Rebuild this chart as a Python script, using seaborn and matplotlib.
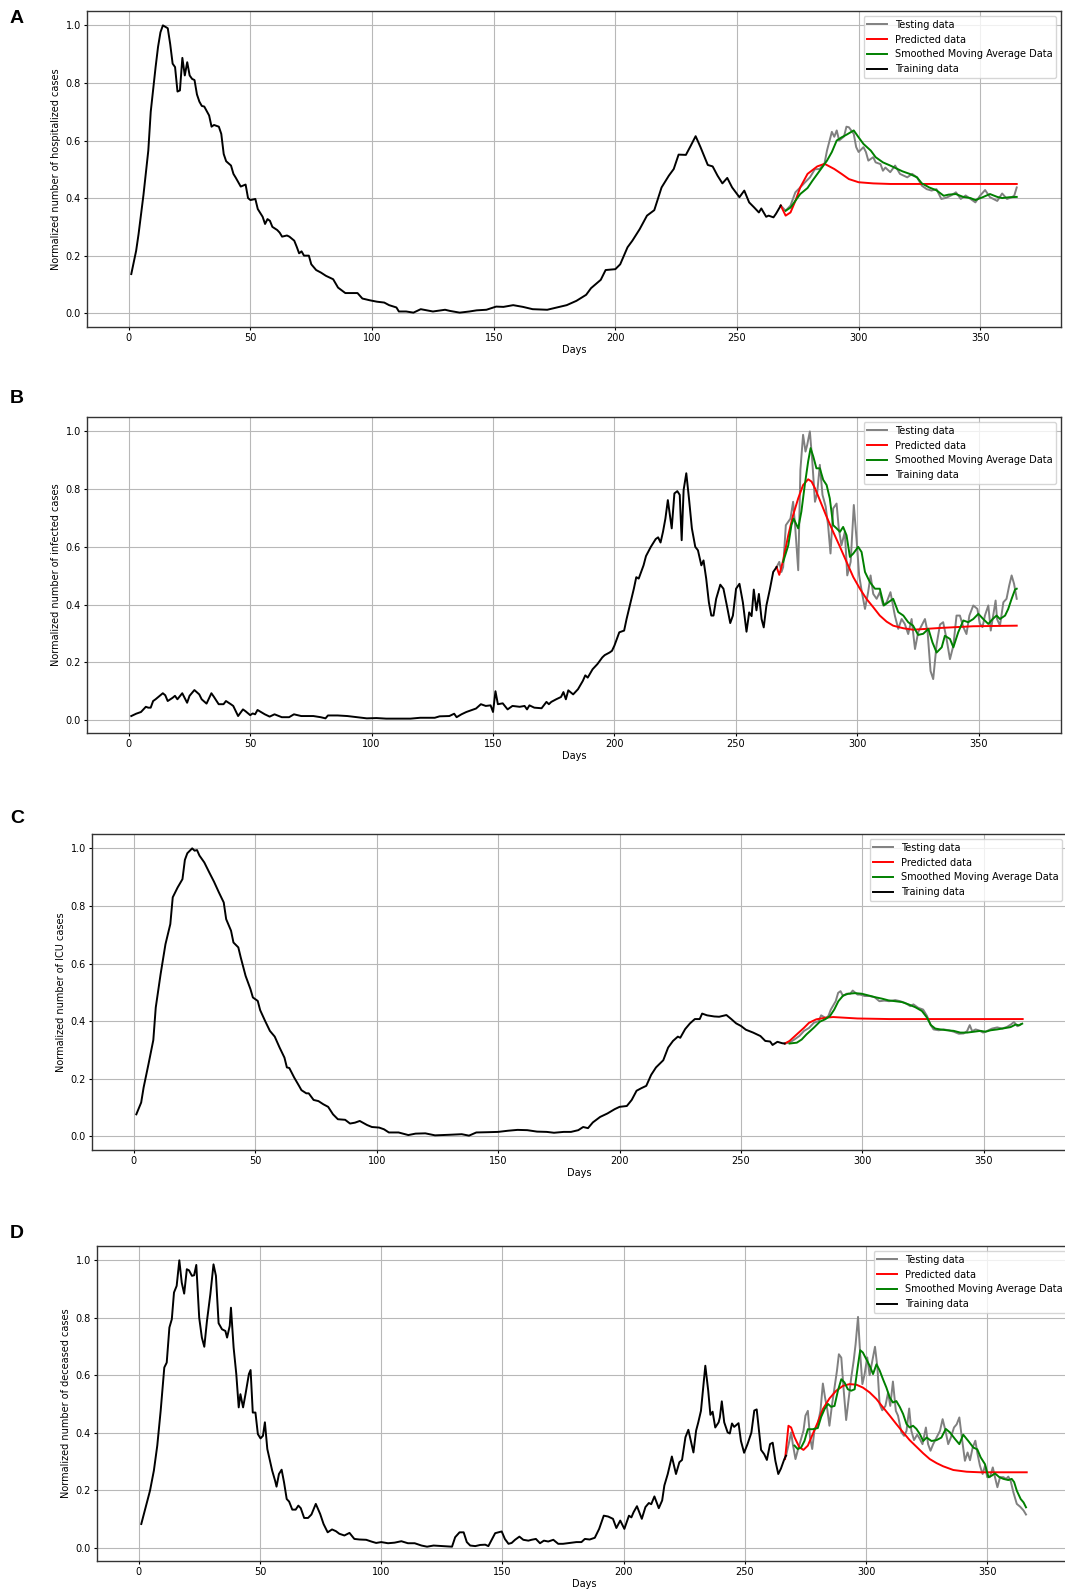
import matplotlib
matplotlib.use("Agg")
import matplotlib.pyplot as plt
import seaborn as sns
import pandas as pd

# ---------------- Panel A: hospitalized ----------------
a_train = [(1,0.136),(3,0.217),(4,0.275),(6,0.41),(8,0.565),(9,0.70),(11,0.855),(12,0.925),(13,0.976),(14,1.0),
           (16,0.99),(17,0.935),(18,0.867),(19,0.855),(20,0.77),(21,0.774),(22,0.887),(23,0.826),(24,0.872),(25,0.826),
           (26,0.814),(27,0.81),(28,0.76),(29,0.735),(30,0.72),(31,0.718),(33,0.687),(34,0.648),(35,0.654),(37,0.648),
           (38,0.623),(39,0.553),(40,0.528),(42,0.513),(43,0.484),(44,0.47),(46,0.44),(48,0.447),(49,0.40),(50,0.393),
           (52,0.397),(53,0.362),(55,0.335),(56,0.31),(57,0.327),(58,0.321),(59,0.30),(61,0.289),(62,0.28),(63,0.266),
           (65,0.27),(66,0.266),(68,0.252),(69,0.231),(70,0.208),(71,0.215),(72,0.20),(74,0.20),(75,0.17),(77,0.15),
           (79,0.141),(81,0.13),(84,0.118),(86,0.089),(89,0.07),(91,0.07),(94,0.07),(96,0.051),(99,0.045),(102,0.04),
           (105,0.037),(107,0.028),(110,0.02),(111,0.006),(114,0.006),(117,0.002),(120,0.014),(125,0.006),(130,0.012),
           (132,0.008),(136,0.002),(140,0.006),(143,0.01),(147,0.012),(151,0.023),(154,0.022),(158,0.028),(162,0.022),
           (166,0.014),(172,0.012),(176,0.02),(180,0.028),(184,0.043),(188,0.064),(190,0.087),(194,0.116),(196,0.15),
           (200,0.153),(202,0.17),(205,0.229),(207,0.252),(210,0.292),(213,0.339),(216,0.358),(219,0.437),(222,0.478),
           (224,0.501),(226,0.551),(229,0.55),(231,0.582),(233,0.615),(235,0.577),(238,0.515),(240,0.51),(242,0.478),
           (244,0.451),(246,0.47),(248,0.437),(251,0.403),(253,0.426),(255,0.385),(257,0.368),(259,0.35),(260,0.364),
           (262,0.335),(263,0.339),(265,0.333),(266,0.345),(268,0.374)]
a_test = [(268,0.374),(270,0.356),(272,0.374),(274,0.42),(276,0.437),(278,0.455),(280,0.472),(282,0.5),(284,0.501),
          (286,0.521),(287,0.565),(289,0.63),(290,0.613),(291,0.635),(292,0.6),(294,0.614),(295,0.648),(296,0.646),
          (298,0.623),(299,0.577),(300,0.56),(302,0.577),(303,0.56),(304,0.53),(306,0.542),(307,0.524),(309,0.518),
          (310,0.495),(311,0.506),(313,0.49),(315,0.513),(317,0.484),(320,0.472),(322,0.484),(324,0.472),(326,0.443),
          (328,0.431),(330,0.426),(332,0.431),(334,0.397),(336,0.401),(338,0.409),(340,0.42),(342,0.397),(344,0.409),
          (346,0.397),(348,0.385),(350,0.409),(352,0.428),(354,0.403),(357,0.39),(359,0.416),(361,0.397),(363,0.403),
          (364,0.409),(365,0.437)]
a_pred = [(268,0.374),(270,0.339),(272,0.35),(274,0.39),(276,0.437),(279,0.484),(283,0.51),(286,0.519),(290,0.501),
          (293,0.484),(296,0.466),(300,0.455),(306,0.451),(313,0.449),(323,0.449),(340,0.449),(365,0.449)]
a_sma = [(270,0.356),(272,0.367),(276,0.414),(279,0.435),(281,0.46),(284,0.495),(287,0.53),(289,0.56),(291,0.6),
         (293,0.611),(295,0.62),(298,0.635),(300,0.611),(302,0.588),(305,0.565),(307,0.542),(310,0.524),(313,0.513),
         (316,0.501),(318,0.493),(321,0.484),(324,0.472),(326,0.451),(329,0.437),(332,0.427),(335,0.408),(337,0.412),
         (340,0.414),(343,0.404),(346,0.4),(348,0.393),(351,0.403),(354,0.414),(357,0.404),(359,0.4),(362,0.403),
         (365,0.404)]

# ---------------- Panel B: infected ----------------
b_train = [(1,0.014),(3,0.022),(5,0.028),(7,0.046),(8,0.043),(9,0.043),(10,0.066),(11,0.072),(14,0.093),(15,0.086),
           (16,0.066),(18,0.077),(19,0.084),(20,0.072),(22,0.093),(24,0.06),(25,0.084),(27,0.104),(29,0.089),(30,0.072),
           (32,0.057),(34,0.093),(35,0.081),(37,0.055),(39,0.055),(40,0.066),(42,0.055),(43,0.049),(45,0.014),(47,0.037),
           (48,0.031),(50,0.017),(51,0.023),(52,0.02),(53,0.035),(56,0.02),(58,0.012),(60,0.02),(63,0.01),(66,0.01),
           (68,0.02),(71,0.014),(73,0.014),(76,0.014),(79,0.01),(81,0.006),(82,0.016),(86,0.016),(90,0.014),(94,0.01),
           (98,0.006),(102,0.007),(106,0.005),(112,0.005),(116,0.005),(120,0.008),(126,0.008),(128,0.013),(132,0.014),
           (134,0.022),(135,0.01),(137,0.02),(139,0.028),(141,0.034),(143,0.04),(145,0.055),(147,0.049),(149,0.051),
           (150,0.028),(151,0.1),(152,0.055),(154,0.058),(156,0.037),(158,0.049),(161,0.046),(163,0.049),(164,0.037),
           (165,0.051),(167,0.043),(170,0.041),(172,0.063),(173,0.055),(174,0.063),(176,0.072),(178,0.08),(179,0.097),
           (180,0.072),(181,0.103),(183,0.089),(185,0.107),(187,0.136),(188,0.155),(189,0.147),(191,0.176),(193,0.194),
           (195,0.217),(196,0.225),(198,0.234),(199,0.24),(200,0.258),(202,0.304),(204,0.31),(205,0.35),(206,0.385),
           (208,0.455),(209,0.495),(210,0.49),(212,0.536),(213,0.568),(215,0.6),(217,0.627),(218,0.633),(219,0.615),
           (220,0.652),(221,0.698),(222,0.762),(223.6,0.664),(224.7,0.785),(225.9,0.793),(226.9,0.78),(227.7,0.623),
           (228.5,0.797),(229.6,0.855),(230.7,0.768),(231.9,0.664),(233.3,0.6),(234.4,0.588),(235.8,0.536),(236.7,0.553),
           (237.8,0.49),(238.9,0.408),(239.9,0.362),(240.8,0.362),(241.9,0.42),(243.6,0.469),(244.9,0.455),(246.3,0.397),
           (247.7,0.336),(248.8,0.362),(250.1,0.455),(251.5,0.472),(252.9,0.408),(254.4,0.306),(255.5,0.373),(256.5,0.36),
           (257.4,0.452),(258.5,0.38),(259.5,0.437),(260.6,0.35),(261.5,0.321),(262.6,0.397),(264.0,0.452),(265.4,0.513),
           (266.8,0.53)]
b_test = [(266.8,0.53),(267.9,0.548),(268.8,0.513),(269.5,0.53),(270.6,0.675),(271.6,0.687),(272.5,0.698),(273.6,0.756),
          (274.5,0.664),(275.7,0.519),(276.6,0.867),(277.7,0.988),(278.7,0.93),(279.4,0.953),(280.5,1.0),(281.5,0.896),
          (282.6,0.756),(283.5,0.785),(284.6,0.884),(285.7,0.78),(287.0,0.74),(288.0,0.675),(289.0,0.577),(290.1,0.733),
          (291.5,0.75),(292.4,0.664),(293.5,0.605),(294.9,0.652),(295.9,0.501),(297.3,0.548),(298.6,0.745),(299.7,0.629),
          (300.8,0.501),(301.8,0.449),(303.2,0.385),(304.5,0.443),(305.5,0.501),(306.6,0.437),(308.0,0.42),(309.3,0.443),
          (310.7,0.397),(312.1,0.408),(313.7,0.443),(315.5,0.362),(316.9,0.316),(318.3,0.35),(319.6,0.333),(321.0,0.298),
          (322.4,0.35),(323.8,0.246),(325.1,0.304),(326.5,0.327),(327.9,0.35),(329.0,0.304),(330.2,0.17),(331.3,0.142),
          (332.7,0.262),(334.1,0.331),(335.4,0.339),(336.8,0.281),(338.2,0.211),(339.6,0.258),(340.9,0.362),(342.3,0.362),
          (343.7,0.322),(345.0,0.298),(346.2,0.362),(347.8,0.397),(349.5,0.385),(350.5,0.334),(351.6,0.322),(352.6,0.362),
          (354.0,0.397),(355.0,0.31),(356.0,0.362),(357.0,0.414),(357.6,0.35),(358.8,0.327),(360.2,0.408),(361.5,0.42),
          (362.6,0.466),(363.6,0.501),(364.6,0.472),(365.7,0.42)]
b_pred = [(266.8,0.53),(267.9,0.503),(269.5,0.553),(271.6,0.64),(273.6,0.71),(275.7,0.768),(277.7,0.814),(279.8,0.834),
          (281.2,0.826),(282.6,0.803),(284.6,0.762),(287.4,0.704),(290.1,0.652),(292.9,0.6),(295.6,0.548),(298.4,0.495),
          (301.1,0.455),(303.8,0.42),(306.6,0.391),(309.3,0.362),(312.1,0.341),(314.8,0.327),(319.0,0.318),(323.0,0.313),
          (328.6,0.316),(334.0,0.319),(347.8,0.325),(365.7,0.327)]
b_sma = [(269.5,0.548),(271.6,0.605),(272.9,0.675),(273.8,0.698),(275.7,0.664),(277.0,0.722),(278.4,0.814),(279.8,0.896),
         (280.8,0.942),(281.9,0.913),(283.2,0.872),(284.6,0.872),(286.0,0.832),(287.4,0.814),(288.7,0.768),(290.1,0.675),
         (291.5,0.664),(292.9,0.652),(294.2,0.669),(295.6,0.64),(297.0,0.565),(298.4,0.577),(300.4,0.6),(301.8,0.582),
         (303.2,0.513),(305.2,0.478),(307.3,0.455),(309.3,0.455),(311.0,0.397),(312.8,0.408),(314.8,0.42),(316.9,0.374),
         (319.0,0.362),(321.0,0.339),(323.0,0.327),(325.1,0.295),(327.2,0.299),(329.3,0.316),(331.0,0.269),(332.7,0.234),
         (334.8,0.252),(336.1,0.292),(338.2,0.281),(339.6,0.252),(341.6,0.304),(343.7,0.345),(345.7,0.339),(347.8,0.35),
         (349.9,0.368),(351.9,0.35),(354.0,0.333),(355.8,0.35),(357.4,0.362),(358.8,0.35),(360.9,0.362),(362.2,0.385),
         (363.6,0.42),(365.0,0.452),(365.7,0.455)]

# ---------------- Panel C: ICU ----------------
c_train = [(1,0.076),(3,0.117),(4,0.169),(6,0.25),(8,0.334),(9,0.447),(11,0.563),(13,0.667),(15,0.737),(16,0.83),
           (18,0.864),(20,0.893),(21,0.96),(22,0.983),(24,1.0),(25,0.992),(26,0.994),(27,0.975),(29,0.951),(31,0.917),
           (33,0.884),(35,0.847),(37,0.812),(38,0.754),(40,0.714),(41,0.673),(43,0.656),(44,0.621),(46,0.557),(48,0.511),
           (49,0.482),(51,0.47),(52,0.438),(54,0.401),(56,0.366),(58,0.346),(60,0.308),(62,0.273),(63,0.239),(64,0.237),
           (66,0.204),(68,0.175),(69,0.16),(71,0.149),(72,0.149),(74,0.126),(76,0.122),(78,0.111),(80,0.102),(82,0.076),
           (84,0.059),(87,0.057),(89,0.044),(91,0.047),(93,0.053),(96,0.039),(98,0.032),(101,0.03),(103,0.024),(105,0.013),
           (109,0.013),(113,0.004),(116,0.009),(120,0.01),(124,0.003),(130,0.005),(135,0.007),(138,0.002),(141,0.013),
           (146,0.014),(150,0.015),(154,0.019),(158,0.022),(162,0.021),(166,0.016),(170,0.015),(173,0.012),(177,0.015),
           (180,0.015),(183,0.021),(185,0.032),(187,0.028),(189,0.048),(192,0.067),(195,0.079),(198,0.094),(200,0.102),
           (203,0.105),(205,0.126),(207,0.158),(209,0.167),(211,0.175),(213,0.213),(215,0.239),(218,0.264),(220,0.308),
           (222,0.331),(224,0.346),(225,0.342),(227,0.372),(229,0.392),(231,0.407),(233,0.407),(234,0.426),(236,0.42),
           (239,0.416),(241,0.415),(244,0.421),(246,0.407),(248,0.392),(250,0.383),(252,0.37),(255,0.36),(258,0.348),
           (260,0.331),(262,0.329),(263,0.317),(265,0.328),(267,0.323),(268,0.322)]
c_test = [(268,0.322),(270,0.325),(272,0.336),(274,0.348),(276,0.366),(278,0.376),(280,0.394),(282,0.4),(283,0.42),
          (285,0.41),(286,0.418),(287,0.44),(289,0.469),(290,0.498),(291,0.504),(292,0.487),(293.5,0.495),(295,0.495),
          (296,0.506),(298,0.492),(299,0.492),(301,0.487),(303,0.487),(305,0.483),(307,0.469),(309,0.471),(311,0.469),
          (313.5,0.473),(315.6,0.469),(317.6,0.463),(319.7,0.452),(321,0.458),(323,0.446),(325,0.44),(326.6,0.418),
          (328,0.388),(329.3,0.371),(331.4,0.368),(333.5,0.371),(335.5,0.368),(337.6,0.363),(339.7,0.356),(341.7,0.357),
          (343.1,0.365),(344.2,0.386),(345.2,0.365),(346.6,0.371),(347.9,0.368),(349.7,0.36),(351.4,0.366),(353.4,0.374),
          (355.5,0.378),(357.6,0.374),(359.6,0.38),(361.3,0.389),(362.4,0.397),(363.8,0.382),(365.2,0.389)]
c_pred = [(268,0.322),(270,0.331),(273,0.354),(276,0.377),(278,0.394),(281,0.406),(285,0.412),(288,0.414),(298,0.409),
          (311,0.407),(366,0.407)]
c_sma = [(270,0.322),(273,0.325),(275,0.336),(277,0.354),(280,0.377),(282.5,0.398),(284.6,0.406),(286.6,0.417),
         (288.4,0.44),(290.1,0.469),(292.1,0.489),(294.2,0.495),(297,0.497),(299.7,0.495),(302.5,0.489),(305.2,0.483),
         (308,0.478),(310.7,0.472),(313.5,0.469),(316.3,0.466),(319,0.458),(321.8,0.448),(324.5,0.435),(326.6,0.412),
         (328.2,0.386),(330,0.374),(332.1,0.371),(334.8,0.368),(337.6,0.366),(340.3,0.36),(343.1,0.36),(345.9,0.363),
         (348.6,0.366),(350.7,0.363),(352.8,0.368),(355.5,0.371),(358.3,0.375),(361,0.379),(363.1,0.388),(364.5,0.385),
         (365.8,0.391)]

# ---------------- Panel D: deceased ----------------
d_train = [(1,0.082),(2.8,0.14),(4.6,0.198),(6.2,0.268),(7.6,0.355),(9,0.476),(10.5,0.627),(11.5,0.644),(12.6,0.766),
           (13.6,0.795),(14.5,0.888),(15.6,0.911),(16.7,1.0),(17.7,0.922),(18.7,0.884),(19.8,0.969),(20.7,0.965),
           (21.9,0.946),(22.8,0.948),(23.7,0.984),(24.9,0.8),(26,0.731),(27,0.699),(28.1,0.789),(29.5,0.882),(30.8,0.986),
           (31.8,0.946),(32.9,0.781),(34.3,0.76),(35.7,0.754),(36.4,0.731),(37.5,0.772),(38,0.835),(39.1,0.696),
           (40.2,0.604),(41.2,0.488),(41.9,0.534),(43,0.488),(44,0.534),(45.4,0.604),(46.1,0.618),(47,0.47),(48.1,0.47),
           (49.1,0.395),(50.2,0.38),(51.2,0.389),(52,0.436),(53,0.343),(54.1,0.302),(55,0.268),(56.2,0.233),(56.8,0.212),
           (57.8,0.256),(58.9,0.271),(59.9,0.227),(61,0.169),(62,0.16),(63.3,0.132),(64.7,0.132),(65.8,0.146),(66.8,0.137),
           (68.2,0.103),(69.8,0.103),(71.2,0.115),(73,0.152),(74.8,0.117),(76.2,0.082),(77.9,0.053),(79.7,0.063),
           (81.3,0.057),(82.7,0.048),(84.8,0.042),(86.9,0.051),(88.9,0.03),(91,0.028),(93.8,0.027),(95.9,0.021),
           (97.9,0.016),(100,0.019),(102.8,0.015),(105.5,0.017),(108.3,0.022),(111,0.015),(113.8,0.015),(116.6,0.007),
           (118.9,0.003),(121.6,0.007),(125.8,0.005),(129.2,0.003),(130.5,0.036),(132.3,0.053),(134,0.053),(135.3,0.019),
           (136.7,0.007),(138.8,0.005),(140.8,0.009),(142.9,0.01),(144.2,0.005),(147,0.05),(149.7,0.056),(151,0.03),
           (152.5,0.013),(153.8,0.016),(155.2,0.027),(157,0.038),(158.6,0.027),(160.7,0.024),(162,0.027),(163.8,0.03),
           (165.5,0.015),(167.1,0.024),(168.9,0.021),(171,0.027),(173,0.013),(175,0.013),(177.8,0.016),(180.5,0.019),
           (182.6,0.019),(184,0.03),(186,0.028),(188.1,0.034),(189.9,0.065),(191.8,0.111),(193.6,0.108),(195.6,0.1),
           (197,0.068),(198.6,0.094),(200.3,0.065),(202.2,0.111),(203.2,0.105),(204.1,0.123),(205.5,0.144),(207.5,0.1),
           (209,0.141),(210.4,0.155),(211.4,0.151),(212.7,0.178),(214.5,0.137),(215.9,0.164),(216.8,0.216),(218.2,0.256),
           (219.9,0.317),(221.6,0.256),(223,0.297),(224.1,0.305),(225.5,0.384),(226.7,0.41),(228.8,0.331),(229.9,0.407),
           (230.8,0.436),(231.9,0.476),(233.7,0.633),(234.9,0.546),(235.8,0.462),(236.7,0.473),(237.8,0.418),(239.2,0.436),
           (239.7,0.453),(240.5,0.509),(241.5,0.436),(242.9,0.401),(243.8,0.397),(244.7,0.432),(245.6,0.42),(247.4,0.433),
           (248.4,0.371),(249.7,0.33),(251.1,0.36),(252.7,0.4),(253.9,0.477),(254.9,0.481),(255.8,0.41),(256.7,0.34),
           (258.0,0.325),(259.1,0.305),(260.4,0.36),(261.5,0.365),(262.6,0.302),(263.8,0.256),(264.9,0.275),(266.3,0.308),
           (267.0,0.32)]
d_test = [(267.0,0.32),(268.1,0.36),(269.1,0.401),(269.8,0.36),(270.9,0.308),(271.8,0.337),(273.2,0.378),(274.2,0.407),
          (275.0,0.459),(276.0,0.476),(276.9,0.384),(277.8,0.343),(278.7,0.407),(280.1,0.43),(281.2,0.476),(282.2,0.571),
          (283.1,0.522),(284.0,0.482),(284.9,0.424),(286.0,0.499),(287.0,0.557),(288.0,0.615),(288.8,0.673),(289.8,0.661),
          (290.7,0.557),(291.8,0.444),(292.9,0.522),(293.9,0.592),(294.9,0.65),(295.7,0.708),(296.7,0.803),(297.6,0.673),
          (298.5,0.569),(299.4,0.603),(300.5,0.662),(301.5,0.6),(302.6,0.65),(303.7,0.699),(304.7,0.627),(305.6,0.5),
          (306.7,0.478),(308.0,0.493),(309.1,0.54),(310.0,0.493),(311.1,0.578),(312.3,0.476),(313.2,0.459),(314.6,0.401),
          (315.7,0.389),(316.7,0.406),(317.8,0.484),(318.7,0.406),(319.8,0.374),(321.1,0.393),(322.2,0.378),(323.3,0.36),
          (324.7,0.418),(325.6,0.36),(326.6,0.337),(327.7,0.36),(329.1,0.383),(330.5,0.406),(331.6,0.447),(332.8,0.406),
          (333.9,0.36),(335.0,0.383),(336.3,0.418),(337.4,0.429),(338.5,0.453),(339.6,0.378),(340.8,0.302),(341.9,0.331),
          (342.9,0.304),(344.0,0.348),(345.1,0.372),(346.0,0.326),(347.0,0.285),(348.1,0.256),(349.1,0.285),(350.0,0.245),
          (351.1,0.245),(352.3,0.279),(353.2,0.245),(354.2,0.21),(355.3,0.245),(356.7,0.245),(357.8,0.239),(358.7,0.247),
          (359.7,0.231),(360.8,0.192),(362.2,0.152),(363.6,0.142),(365.0,0.129),(366.0,0.115)]
d_pred = [(266.6,0.308),(268.0,0.424),(269.1,0.418),(270.5,0.384),(272.5,0.349),(274.2,0.34),(276.0,0.355),(278.0,0.395),
          (280.1,0.436),(282.2,0.482),(284.9,0.519),(287.7,0.546),(290.5,0.563),(293.2,0.569),(296.0,0.567),(298.7,0.557),
          (301.5,0.54),(304.3,0.517),(307.0,0.488),(309.8,0.459),(312.5,0.43),(315.3,0.401),(318.0,0.374),(320.8,0.351),
          (323.6,0.328),(326.3,0.308),(329.1,0.294),(331.8,0.283),(336.0,0.27),(341.5,0.264),(347.0,0.262),(366.3,0.262)]
d_sma = [(270.5,0.355),(271.8,0.343),(273.2,0.348),(274.6,0.371),(276.0,0.412),(278.0,0.412),(280.1,0.416),(281.5,0.455),
         (282.9,0.482),(284.3,0.5),(285.6,0.49),(287.0,0.493),(288.4,0.546),(289.8,0.586),(291.1,0.575),(292.5,0.551),
         (293.9,0.546),(295.3,0.551),(296.7,0.636),(297.6,0.687),(298.7,0.679),(300.1,0.656),(301.5,0.633),(302.9,0.604),
         (304.3,0.638),(305.6,0.617),(307.0,0.586),(308.4,0.557),(309.8,0.522),(311.1,0.505),(312.5,0.51),(313.9,0.49),
         (315.3,0.465),(316.7,0.43),(318.0,0.418),(319.4,0.424),(320.8,0.413),(322.2,0.395),(323.6,0.371),(325.0,0.383),
         (327.0,0.371),(329.1,0.374),(331.1,0.383),(332.9,0.413),(334.6,0.401),(336.7,0.378),(338.5,0.36),(340.1,0.393),
         (342.2,0.371),(344.3,0.348),(345.9,0.342),(347.3,0.314),(349.1,0.29),(350.5,0.245),(351.8,0.25),(353.2,0.258),
         (355.0,0.245),(356.7,0.239),(358.7,0.235),(360.1,0.239),(361.1,0.228),(362.2,0.198),(363.8,0.169),(365.0,0.157),
         (366.0,0.14)]

panel_letters = ["A", "B", "C", "D"]
y_labels = ["Normalized number of hospitalized cases",
            "Normalized number of infected cases",
            "Normalized number of ICU cases",
            "Normalized number of deceased cases"]
series_labels = ["Testing data", "Predicted data", "Smoothed Moving Average Data", "Training data"]
series_colors = ["gray", "red", "green", "black"]

panels = [(a_train, a_test, a_pred, a_sma),
          (b_train, b_test, b_pred, b_sma),
          (c_train, c_test, c_pred, c_sma),
          (d_train, d_test, d_pred, d_sma)]

W, H = 1065, 1593
# axes boxes in pixels: (left, top, right, bottom)
boxes = [(87, 11, 1061, 327), (87, 417, 1061, 733), (92, 834, 1067, 1150), (97, 1246, 1071, 1561)]
letter_tops = [10, 390, 810, 1225]

fig = plt.figure(figsize=(W / 100, H / 100), dpi=100)
fig.patch.set_facecolor("white")

for i, (train, test, pred, sma) in enumerate(panels):
    l, t, r, b = boxes[i]
    ax = fig.add_axes([l / W, 1 - b / H, (r - l) / W, (b - t) / H])
    ax.set_facecolor("white")
    for data, color, label in zip([test, pred, sma, train], series_colors, series_labels):
        df = pd.DataFrame(data, columns=["Days", "value"])
        sns.lineplot(data=df, x="Days", y="value", color=color, label=label,
                     linewidth=1.4, estimator=None, sort=False, ax=ax)
    ax.grid(True, color="#b8b8b8", linewidth=0.8)
    ax.set_axisbelow(True)
    ax.set_xlabel("Days", fontsize=7, labelpad=1.5)
    ax.set_ylabel(y_labels[i], fontsize=7, labelpad=3)
    ax.tick_params(labelsize=7, length=2.5, width=0.8, pad=2)
    for sp in ax.spines.values():
        sp.set_linewidth(1.0)
        sp.set_color("#333333")
    ax.legend(loc="upper right", fontsize=7, framealpha=0.8, edgecolor="#cccccc",
              borderaxespad=0.5, handlelength=2.0)
    fig.text(10 / W, 1 - letter_tops[i] / H, panel_letters[i], fontsize=14,
             fontweight="bold", family=["Liberation Sans", "DejaVu Sans"], va="top", ha="left")

fig.savefig("out.png", dpi=100, facecolor="white")
